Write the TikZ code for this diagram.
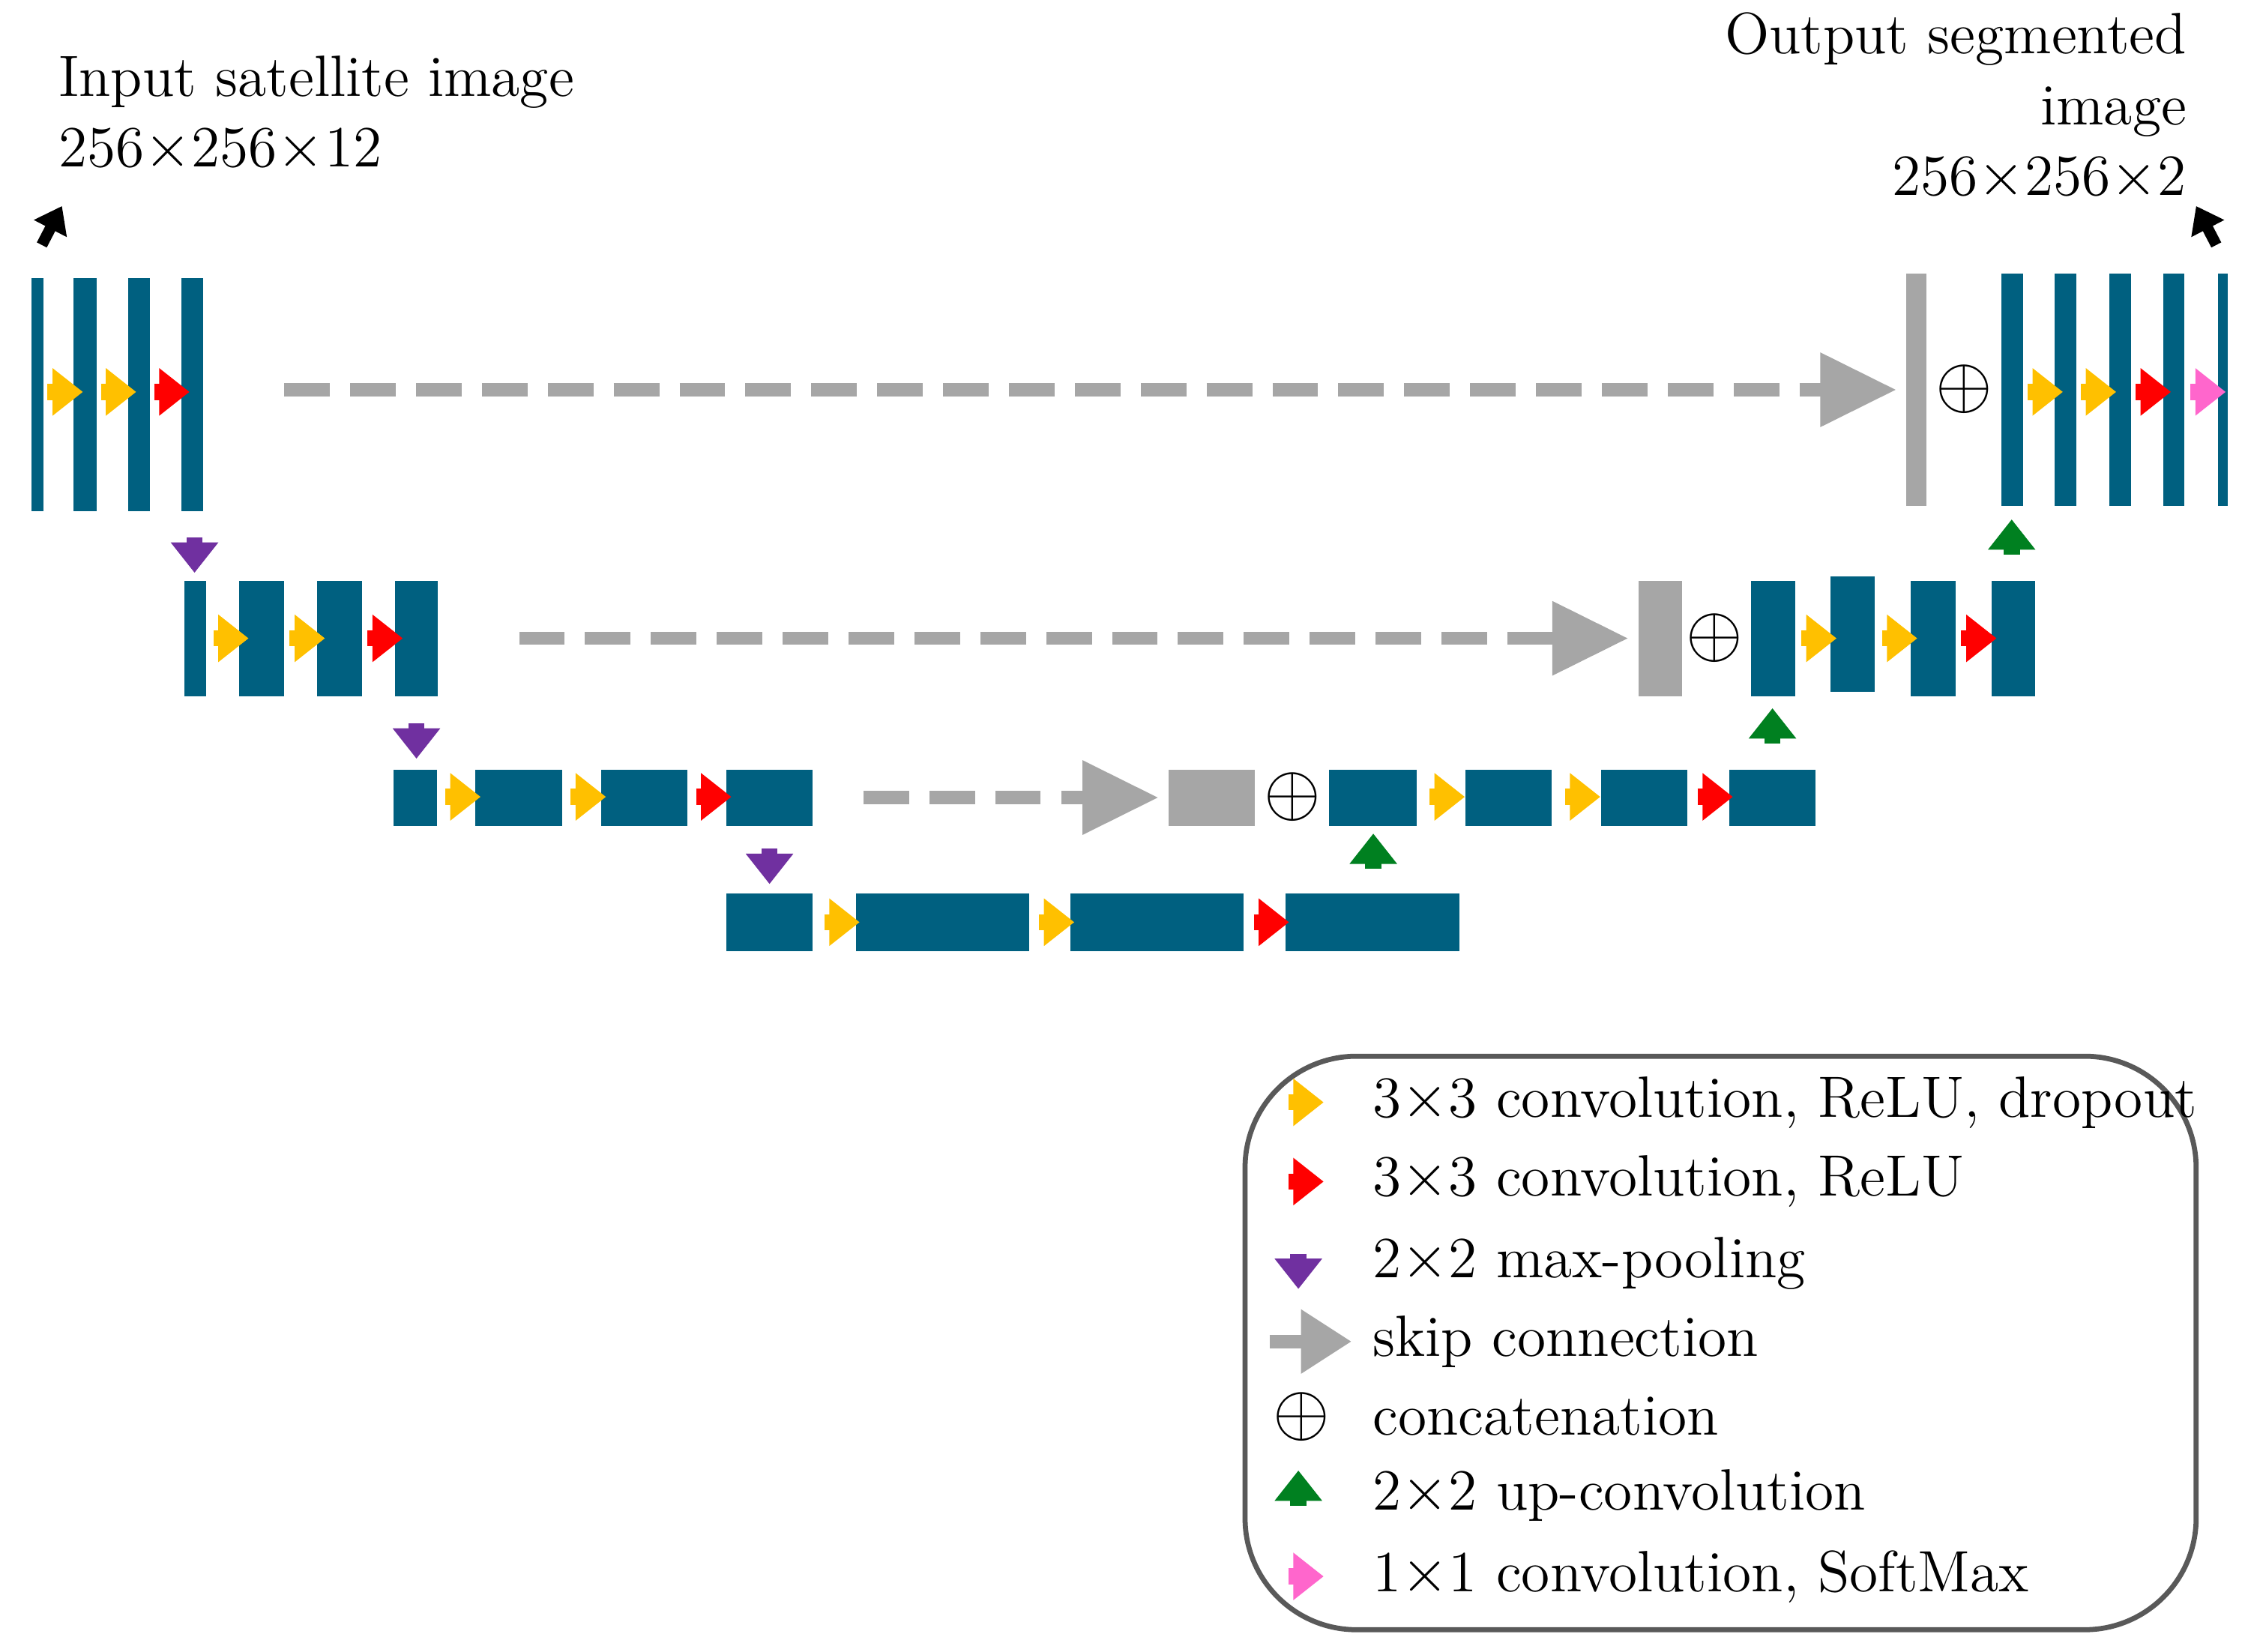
\documentclass[tikz,border=0pt]{standalone}
\usetikzlibrary{arrows.meta, positioning}
\definecolor{blkblue}{RGB}{0,96,128}
\definecolor{skipgray}{RGB}{166,166,166}
\definecolor{opyellow}{RGB}{255,192,0}
\definecolor{opred}{RGB}{255,0,0}
\definecolor{oppurple}{RGB}{112,48,160}
\definecolor{opgreen}{RGB}{0,128,32}
\definecolor{oppink}{RGB}{255,102,204}
% block from x1 to x2, y1 to y2 (pixel units)
\newcommand\blk[6][blk]{\node[#1, minimum width={(#4-#3)*0.01cm}, minimum height={(#6-#5)*0.01cm}] (#2) at ({(#3+#4)/2},{(#5+#6)/2}) {};}
\newcommand\opr[3]{\draw[op,#1] ({#2-7},#3) -- ({#2+7},#3);}
\newcommand\opd[3]{\draw[op,#1] (#2,{#3-7}) -- (#2,{#3+7});}
\newcommand\opu[3]{\draw[op,#1] (#2,{#3+7}) -- (#2,{#3-7});}
\begin{document}
\begin{tikzpicture}[x=0.01cm,y=-0.01cm,font=\fontsize{11.5}{14}\selectfont,
		blk/.style={fill=blkblue,inner sep=0pt,outer sep=0pt},
		gblk/.style={fill=skipgray,inner sep=0pt,outer sep=0pt},
		op/.style={line width=3.2pt,-{Triangle[length=6pt,width=9pt]},shorten >=-3pt},
		skip/.style={skipgray,line width=2.6pt,dash pattern=on 9pt off 4pt,-{Triangle[length=15pt,width=14pt]},shorten >=2pt},
		concat/.style={inner sep=0pt,font=\Large}]
	\useasboundingbox (0,0) rectangle (1560,1146);
	% row 1
	\foreach \n/\a/\b in {a/22/30,b/51/67,c/89/104,d/126/141} {\blk{r1\n}{\a}{\b}{193}{355}}
	\blk[gblk]{g1}{1323}{1337}{190}{351}
	\foreach \n/\a/\b in {e/1389/1404,f/1426/1441,g/1464/1479,h/1501/1516,i/1539/1546} {\blk{r1\n}{\a}{\b}{190}{351}}
	% row 2
	\foreach \n/\a/\b in {a/128/143,b/166/197,c/220/251,d/274/304} {\blk{r2\n}{\a}{\b}{403}{483}}
	\blk[gblk]{g2}{1137}{1167}{403}{483}
	\blk{r2e}{1215}{1246}{403}{483}
	\blk{r2f}{1270}{1301}{400}{480}
	\blk{r2g}{1326}{1357}{403}{483}
	\blk{r2h}{1382}{1412}{403}{483}
	% row 3
	\foreach \n/\a/\b in {a/273/303,b/330/390,c/417/477,d/504/564} {\blk{r3\n}{\a}{\b}{534}{573}}
	\blk[gblk]{g3}{811}{871}{534}{573}
	\foreach \n/\a/\b in {e/922/983,f/1017/1077,g/1111/1171,h/1200/1260} {\blk{r3\n}{\a}{\b}{534}{573}}
	% row 4
	\foreach \n/\a/\b in {a/504/564,b/594/714,c/743/863,d/892/1013} {\blk{r4\n}{\a}{\b}{620}{660}}

	% skip connections
	\draw[skip] ([xshift=16pt]r1d.east|-g1.west) -- (g1.west);
	\draw[skip] ([xshift=16pt]r2d.east) -- (g2.west);
	\draw[skip] ([xshift=10pt]r3d.east) -- (g3.west);
	\node[concat] (c1) at (1363,270) {$\oplus$};
	\node[concat] (c2) at (1190,443) {$\oplus$};
	\node[concat] (c3) at (897,553) {$\oplus$};

	% operations
	\foreach \x in {40,77,1414,1451} {\opr{opyellow}{\x}{272}}
	\foreach \x in {114,1489} {\opr{opred}{\x}{272}}
	\opr{oppink}{1527}{272}
	\foreach \x in {155,208,1257,1313} {\opr{opyellow}{\x}{443}}
	\foreach \x in {262,1368} {\opr{opred}{\x}{443}}
	\foreach \x in {316,403,999,1093} {\opr{opyellow}{\x}{553}}
	\foreach \x in {490,1185} {\opr{opred}{\x}{553}}
	\foreach \x in {579,728} {\opr{opyellow}{\x}{640}}
	\opr{opred}{877}{640}
	\opd{oppurple}{135}{380}
	\opd{oppurple}{289}{509}
	\opd{oppurple}{534}{596}
	\opu{opgreen}{1396}{378}
	\opu{opgreen}{1230}{509}
	\opu{opgreen}{953}{596}

	% input / output
	\coordinate (inA) at (29,170);
	\coordinate (inB) at (43,143);
	\coordinate (outA) at (1538,170);
	\coordinate (outB) at (1524,143);
	\draw[line width=2.2pt,-{Triangle[length=5pt,width=7pt]}] (inA) -- (inB);
	\draw[line width=2.2pt,-{Triangle[length=5pt,width=7pt]}] (outA) -- (outB);
	\node[anchor=north west,align=left,inner sep=0pt] (intxt) at (40,38) {Input satellite image\\256$\times$256$\times$12};
	\node[anchor=north east,align=right,inner sep=0pt] (outtxt) at (1518,8) {Output segmented\\image\\256$\times$256$\times$2};

	% legend
	\draw[rounded corners=22pt,gray!70!black,line width=1pt] (864,733) rectangle (1524,1131);
	\opr{opyellow}{901}{765}
	\opr{opred}{901}{820}
	\opd{oppurple}{901}{877}
	\coordinate (ls1) at (881,931);
	\coordinate (ls2) at (938,931);
	\draw[skip,dash pattern=on 8pt off 3pt,-{Triangle[length=10pt,width=12pt]},shorten >=0pt] (ls1) -- (ls2);
	\node[concat] (lc) at (903,983) {$\oplus$};
	\opu{opgreen}{901}{1038}
	\opr{oppink}{901}{1094}
	\foreach \y/\t in {765/{3$\times$3 convolution, ReLU, dropout},820/{3$\times$3 convolution, ReLU},877/{2$\times$2 max-pooling},931/{skip connection},983/{concatenation},1038/{2$\times$2 up-convolution},1094/{1$\times$1 convolution, SoftMax}}
		{\node[anchor=west,inner sep=0pt] at (952,\y) {\t};}
\end{tikzpicture}
\end{document}
